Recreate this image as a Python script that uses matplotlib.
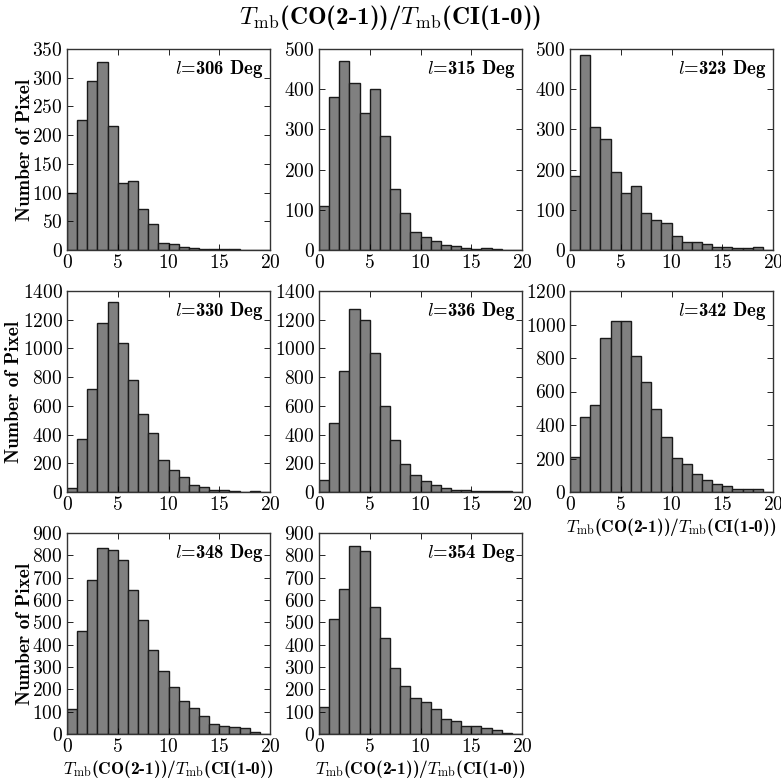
import matplotlib
matplotlib.use("Agg")
import matplotlib.pyplot as plt
import numpy as np

plt.rcParams["mathtext.fontset"] = "cm"
plt.rcParams["font.family"] = "cmr10"
plt.rcParams["axes.unicode_minus"] = False
plt.rcParams["axes.formatter.use_mathtext"] = True

# ratio histograms, 1-wide bins from 0 to 20
bin_edges = np.arange(0, 21, 1)

longitudes = [306, 315, 323, 330, 336, 342, 348, 354]

counts_306 = [99, 227, 295, 328, 216, 117, 121, 71, 45, 13, 10, 6, 4, 1, 1, 2, 1, 0, 0, 0]
counts_315 = [109, 380, 470, 415, 342, 400, 283, 152, 93, 45, 33, 22, 13, 10, 6, 2, 5, 2, 1, 0]
counts_323 = [185, 485, 307, 276, 195, 143, 159, 93, 75, 68, 34, 20, 20, 14, 7, 8, 4, 4, 8, 0]
counts_330 = [30, 370, 720, 1180, 1325, 1035, 780, 545, 410, 225, 155, 105, 50, 35, 15, 12, 8, 3, 5, 0]
counts_336 = [85, 480, 840, 1275, 1200, 970, 600, 365, 195, 120, 80, 50, 25, 15, 15, 10, 10, 5, 5, 0]
counts_342 = [210, 450, 520, 920, 1020, 1020, 810, 655, 495, 330, 205, 170, 105, 70, 45, 35, 20, 20, 20, 0]
counts_348 = [110, 460, 690, 835, 825, 780, 645, 510, 378, 280, 212, 148, 115, 80, 45, 37, 32, 27, 10, 0]
counts_354 = [120, 515, 650, 840, 820, 570, 430, 297, 215, 162, 145, 110, 68, 58, 35, 35, 28, 17, 5, 0]

all_counts = [counts_306, counts_315, counts_323, counts_330,
              counts_336, counts_342, counts_348, counts_354]
y_max = [350, 500, 500, 1400, 1400, 1200, 900, 900]
y_step = [50, 100, 100, 200, 200, 200, 100, 100]

ratio_label = r"$T_{\rm mb}$(CO(2-1))/$T_{\rm mb}$(CI(1-0))"

fig = plt.figure(figsize=(7.81, 7.80), dpi=100)
W, H = 781.0, 780.0
col_left = [67, 319, 570]
row_top = [49, 291, 533]
ax_w, ax_h = 203, 201
# right edge of the y label, per row (4-digit ticks push it further out)
ylabel_x = [-0.165, -0.215, -0.165]

fig.text(0.5, 1 - 18 / H, ratio_label, ha="center", va="center",
         fontsize=18, family="cmb10")

for i, (lon, counts) in enumerate(zip(longitudes, all_counts)):
    r, c = divmod(i, 3)
    ax = fig.add_axes([col_left[c] / W, 1 - (row_top[r] + ax_h) / H,
                       ax_w / W, ax_h / H])
    ax.bar(bin_edges[:-1], counts, width=1, align="edge",
           color="#808080", edgecolor="#1a1a1a", linewidth=1.0)
    ax.set_xlim(0, 20)
    ax.set_ylim(0, y_max[i])
    ax.set_xticks([0, 5, 10, 15, 20])
    ax.set_yticks(np.arange(0, y_max[i] + 1, y_step[i]))
    ax.tick_params(direction="in", top=True, right=True, length=4,
                   width=0.6, labelsize=14, pad=3)
    for sp in ax.spines.values():
        sp.set_linewidth(1.0)
        sp.set_color("#333333")
    ax.text(0.97, 0.955, r"$l$=%d Deg" % lon, transform=ax.transAxes,
            ha="right", va="top", fontsize=13.5, family="cmb10")
    if c == 0:
        ax.set_ylabel("Number of Pixel", fontsize=14, family="cmb10")
        ax.yaxis.set_label_coords(ylabel_x[r], 0.5)
    if i >= 5:
        ax.set_xlabel(ratio_label, fontsize=12.5, family="cmb10", labelpad=1)

fig.savefig("out.png", dpi=100)
